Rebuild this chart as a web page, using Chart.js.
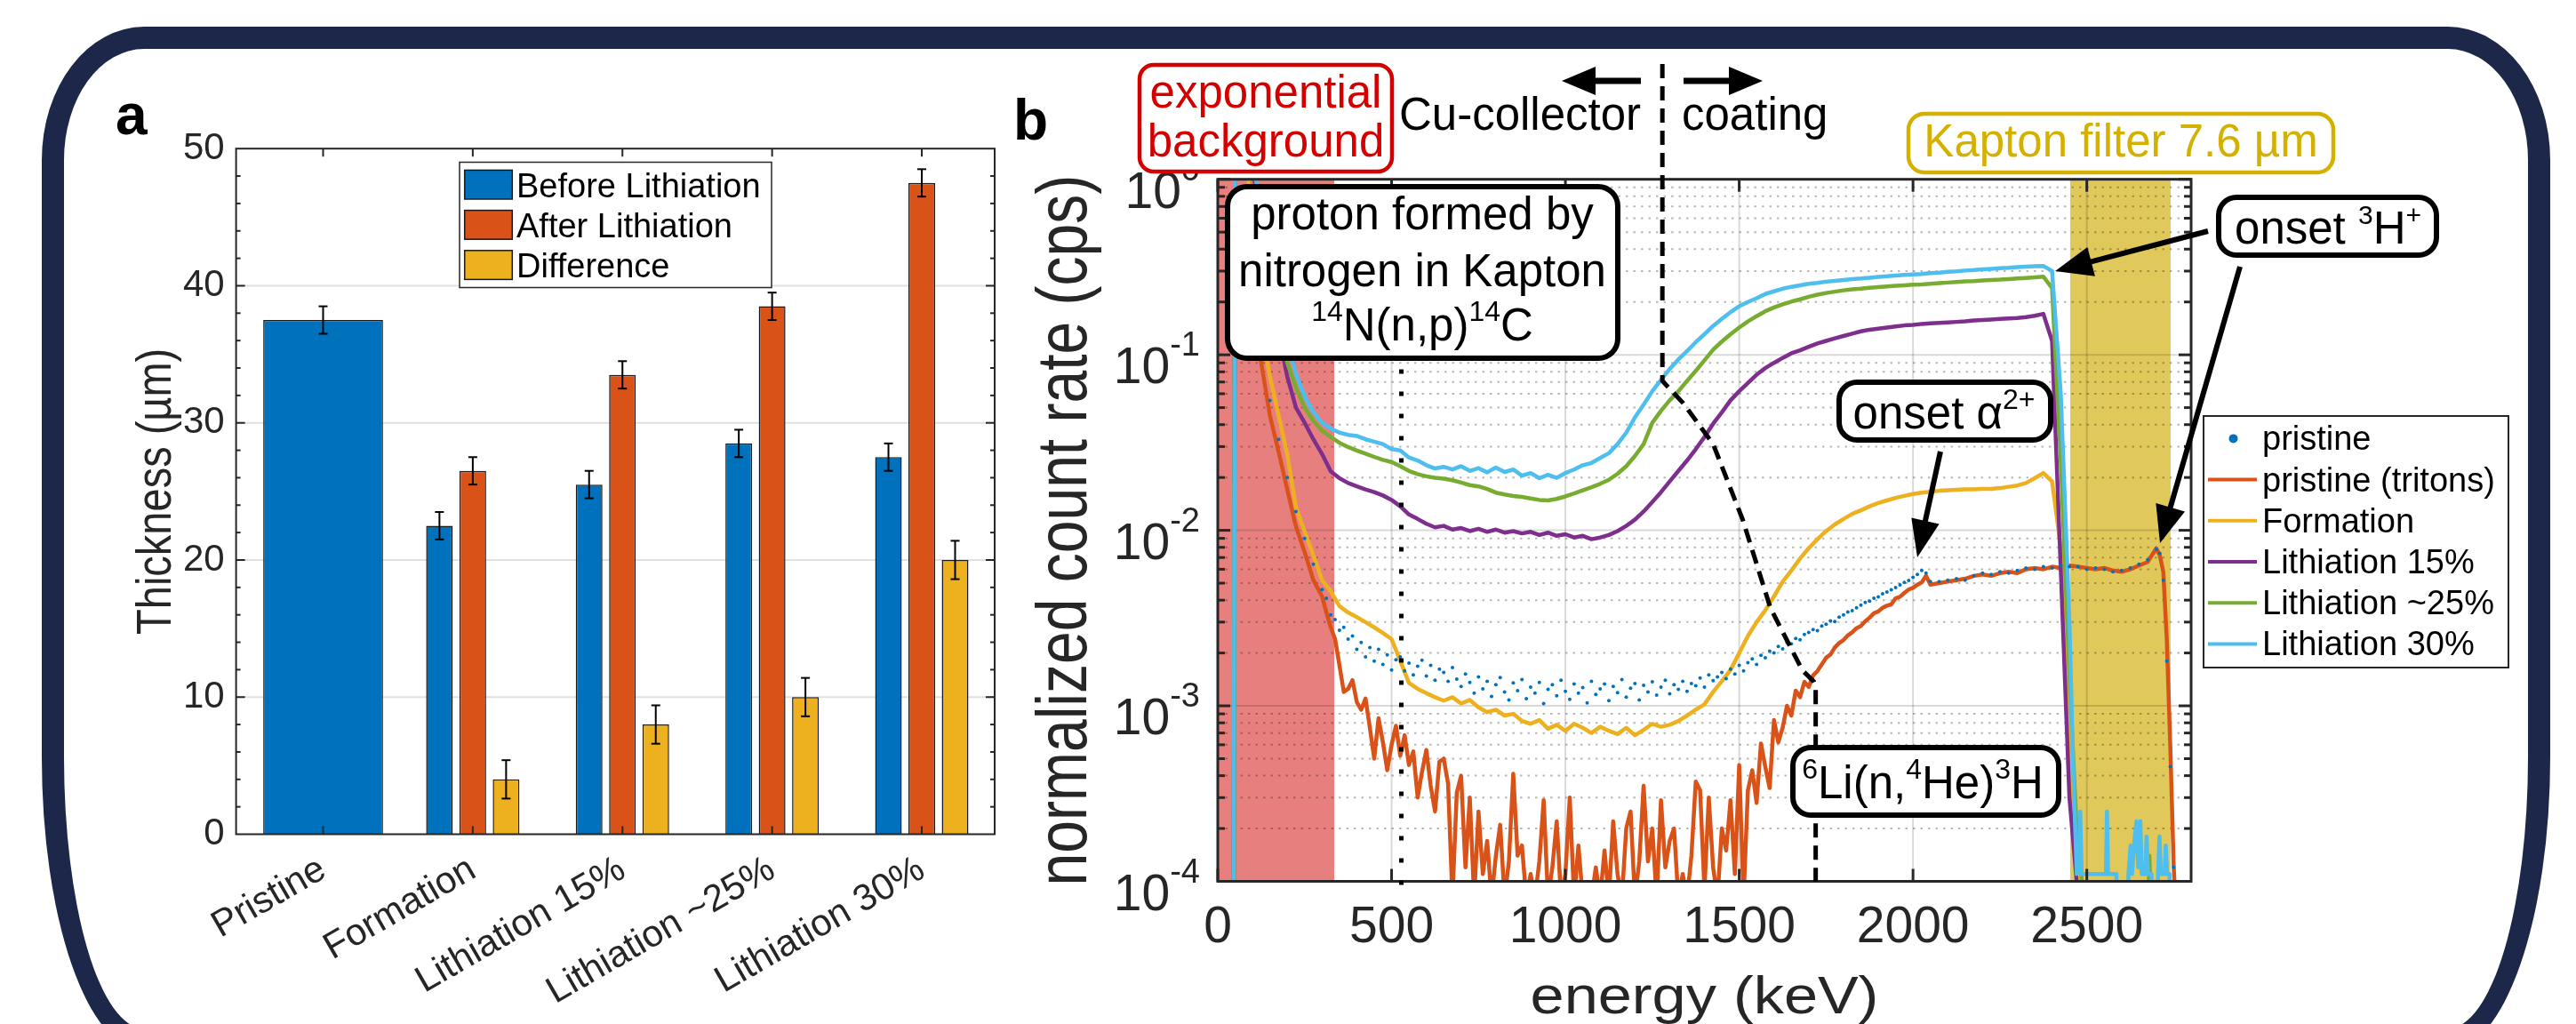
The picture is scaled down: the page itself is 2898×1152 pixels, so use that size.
<!DOCTYPE html>
<html><head><meta charset="utf-8">
<script src="https://cdn.jsdelivr.net/npm/chart.js@4.4.1/dist/chart.umd.min.js"></script>
<style>
html,body{margin:0;padding:0;background:#fff;width:2898px;height:1152px;overflow:hidden;}
#frame{position:absolute;left:47px;top:30px;width:2822px;height:1152px;box-sizing:border-box;border:25px solid #1d2749;border-radius:115px 115px 115px 115px / 150px 150px 330px 330px;}
canvas{position:absolute;left:0;top:0;width:2898px;height:1152px;}
</style></head><body>
<div id="frame"></div>
<canvas id="ca" width="2898" height="1152"></canvas>
<canvas id="cb" width="2898" height="1152"></canvas>
<script>
// ---------------- Panel a data ----------------
const categories = ['Pristine','Formation','Lithiation 15%','Lithiation ~25%','Lithiation 30%'];
const pristineThickness = [37.5, null, null, null, null];
const pristineError     = [1, null, null, null, null];
const beforeLithiation  = [null, 22.5, 25.5, 28.5, 27.5];
const beforeError       = [null, 1, 1, 1, 1];
const afterLithiation   = [null, 26.5, 33.5, 38.5, 47.5];
const afterError        = [null, 1, 1, 1, 1];
const difference        = [null, 4, 8, 10, 20];
const differenceError   = [null, 1.4, 1.4, 1.4, 1.4];
const thicknessTicks    = [0, 10, 20, 30, 40, 50];

// ---------------- Panel b data ----------------
const energyTicks = [0, 500, 1000, 1500, 2000, 2500];
const rateTicks = [1e-4, 1e-3, 1e-2, 1e-1, 1];

const energyGrid = [45,50,75,100,125,150,175,200,225,250,
 275,300,325,350,375,400,425,450,475,500,
 525,550,575,600,625,650,675,700,725,750,
 775,800,825,850,875,900,925,950,975,1000,
 1025,1050,1075,1100,1125,1150,1175,1200,1225,1250,
 1275,1300,1325,1350,1375,1400,1425,1450,1475,1500,
 1525,1550,1575,1600,1625,1650,1675,1700,1725,1750,
 1775,1800,1825,1850,1875,1900,1925,1950,1975,2000,
 2025,2050,2075,2100,2125,2150,2175,2200,2225,2250,
 2275,2300,2325,2350,2375,2400,2425,2450,2475];

const formationRate = [1e-5,5,2.2,0.5,0.14,0.075,0.045,0.027,0.0135,0.0098,
 0.0072,0.0052,0.0045,0.0037,0.0034,0.0032,0.003,0.0028,0.0026,0.0024,
 0.0018,0.00135,0.00125,0.00118,0.00112,0.00107,0.00112,0.00103,0.00108,0.00098,
 0.00092,0.00095,0.00088,0.0009,0.00082,0.00079,0.00083,0.00074,0.00078,0.00072,
 0.00079,0.00075,0.0007,0.00076,0.00072,0.00069,0.00075,0.00068,0.00073,0.00079,
 0.00076,0.00078,0.00082,0.00088,0.00095,0.00102,0.0012,0.00138,0.0016,0.002,
 0.0025,0.003,0.0035,0.0042,0.0051,0.0059,0.0069,0.0079,0.0089,0.0099,
 0.0108,0.0116,0.0124,0.013,0.0137,0.0143,0.0148,0.0153,0.0157,0.0161,
 0.0164,0.0166,0.0168,0.0169,0.017,0.0171,0.0171,0.0172,0.0172,0.0174,
 0.0177,0.018,0.0186,0.0198,0.0212,0.019,0.008,0.0005,0.00008];

const lith15Rate = [1e-5,5,2.5,1.2,0.5,0.25,0.13,0.075,0.05,0.041,
 0.033,0.0272,0.0217,0.0198,0.0186,0.0178,0.0171,0.0165,0.0158,0.0149,
 0.0137,0.0123,0.0116,0.0109,0.0104,0.0106,0.0101,0.0103,0.0099,0.0102,
 0.0098,0.0101,0.0097,0.0099,0.0096,0.0098,0.0094,0.0097,0.0093,0.0095,
 0.0091,0.0093,0.0089,0.0091,0.0094,0.0099,0.0106,0.0115,0.0128,0.0145,
 0.0165,0.019,0.0218,0.025,0.029,0.034,0.0405,0.047,0.055,0.062,
 0.069,0.077,0.084,0.09,0.096,0.102,0.106,0.111,0.116,0.12,
 0.124,0.128,0.132,0.136,0.139,0.141,0.143,0.145,0.147,0.148,
 0.15,0.151,0.152,0.153,0.154,0.155,0.157,0.158,0.159,0.16,
 0.161,0.162,0.164,0.167,0.171,0.12,0.006,0.0003,0.00008];

const lith25Rate = [1e-5,5,2.8,1.4,0.55,0.32,0.18,0.09,0.065,0.05,
 0.042,0.037,0.034,0.0315,0.0298,0.0285,0.0273,0.0262,0.0252,0.0245,
 0.0232,0.0218,0.0209,0.0203,0.0199,0.0197,0.0193,0.0187,0.0181,0.0178,
 0.0172,0.0164,0.016,0.0157,0.0155,0.0152,0.0149,0.0148,0.0151,0.0156,
 0.0162,0.0169,0.0176,0.0184,0.0194,0.021,0.0232,0.0265,0.031,0.041,
 0.048,0.055,0.062,0.071,0.081,0.093,0.107,0.119,0.131,0.143,
 0.155,0.166,0.177,0.186,0.194,0.201,0.207,0.214,0.22,0.225,
 0.229,0.233,0.236,0.238,0.241,0.243,0.245,0.247,0.249,0.251,
 0.252,0.254,0.256,0.258,0.26,0.262,0.263,0.265,0.267,0.268,
 0.27,0.272,0.274,0.276,0.279,0.24,0.025,0.0015,0.00013];
const lith25TailEnergy = [2482, 2490, 2676, 2680, 2686];
const lith25TailRate   = [0.00014, 0.00006, 0.00006, 0.00014, 0.00006];

const lith30Rate = [1e-5,5,3,1.5,0.6,0.35,0.2,0.12,0.078,0.058,
 0.047,0.041,0.038,0.036,0.035,0.0345,0.033,0.032,0.031,0.029,
 0.0285,0.026,0.025,0.0235,0.0225,0.023,0.0222,0.0232,0.0218,0.0226,
 0.0214,0.0228,0.0215,0.0222,0.0205,0.0212,0.0198,0.0207,0.0199,0.0212,
 0.0222,0.0235,0.0242,0.0258,0.0275,0.031,0.036,0.044,0.052,0.062,
 0.072,0.083,0.094,0.105,0.118,0.131,0.146,0.16,0.175,0.189,
 0.2,0.21,0.222,0.23,0.238,0.244,0.249,0.254,0.257,0.261,
 0.264,0.267,0.27,0.272,0.275,0.278,0.28,0.283,0.285,0.287,
 0.289,0.292,0.294,0.297,0.299,0.302,0.304,0.307,0.309,0.311,
 0.313,0.316,0.318,0.32,0.321,0.3,0.06,0.003,null];
const lith30TailEnergy = [2460,2471,2478,2481,2485,2505,2555,2558,2561,2585,2588,2617,2620,2626,2630,2638,2643,2648,2654,2658,2668,2672,2676,2686,2689,2702,2705,2709,2713,2724,2727,2731,2738,2741];
const lith30TailRate   = [0.0005,0.00011,0.00012,0.00025,0.00011,0.00011,0.00011,0.00025,0.00011,0.00011,0.00006,0.00006,0.00011,0.00016,0.00011,0.00018,0.00022,0.00012,0.00022,0.00011,0.00011,0.00018,0.00011,0.00011,0.00006,0.00006,0.00011,0.00018,0.00011,0.00011,0.00016,0.00011,0.00011,0.00005];

const spectrumEnergy = [45,50,75,100,125,150,175,200,225,250,275,
 300,312.5,325,337.5,350,362.5,375,387.5,
 400,412.5,425,437.5,450,462.5,475,487.5,
 500,512.5,525,537.5,550,562.5,575,587.5,
 600,612.5,625,637.5,650,662.5,675,687.5,
 700,712.5,725,737.5,750,762.5,775,787.5,
 800,812.5,825,837.5,850,862.5,875,887.5,
 900,912.5,925,937.5,950,962.5,975,987.5,
 1000,1012.5,1025,1037.5,1050,1062.5,1075,1087.5,
 1100,1112.5,1125,1137.5,1150,1162.5,1175,1187.5,
 1200,1212.5,1225,1237.5,1250,1262.5,1275,1287.5,
 1300,1312.5,1325,1337.5,1350,1362.5,1375,1387.5,
 1400,1412.5,1425,1437.5,1450,1462.5,1475,1487.5,
 1500,1512.5,1525,1537.5,1550,1562.5,1575,1587.5,
 1600,1612.5,1625,1637.5,1650,1662.5,1675,1687.5,
 1700,1712.5,1725,1737.5,1750,1762.5,1775,1787.5,
 1800,1812.5,1825,1837.5,1850,1862.5,1875,1887.5,
 1900,1912.5,1925,1937.5,1950,1962.5,1975,1987.5,
 2000,2012.5,2025,2037.5,2050,
 2075,2100,2125,2150,2175,2200,2225,2250,2275,2300,2325,2350,2375,
 2400,2425,2450,2475,2500,2525,2550,2575,2600,2625,2650,2675,2700,
 2710,2720,2730,2740,2750,2760];

const tritonRate = [1e-5,5,2,0.6,0.09,0.045,0.028,0.017,0.0105,0.0075,0.0052,
 0.0042,0.0034,0.0028,0.0024,0.0017,0.0012,0.00125,0.0014,
 0.00105,0.00095,0.0011,0.00075,0.0005,0.00085,0.00062,0.00043,
 0.0006,0.00077,0.00052,0.00068,0.00046,0.00055,0.0003,0.00042,
 0.00056,0.00035,0.00025,0.00048,0.0005,0.00036,0.00008,0.00032,
 0.0004,0.00012,0.0003,0.00008,0.00025,0.00011,0.00017,0.00008,
 0.00014,0.00021,0.00008,0.00013,0.00041,0.00014,0.00016,0.00008,
 0.00011,0.00008,0.00013,0.00029,0.00008,0.00012,0.00022,0.00008,
 0.00011,0.0003,0.00008,0.00016,0.00008,0.00009,0.00008,0.00012,
 0.00008,0.00015,0.00008,0.00022,0.00011,0.00008,0.0002,0.00025,
 0.00008,0.00013,0.00035,0.00013,0.0002,0.00008,0.00029,0.00012,
 0.00017,0.0002,0.00008,0.00011,0.00008,0.00014,0.00037,0.00033,
 0.00009,0.0003,0.00012,0.00008,0.0002,0.00015,0.00029,0.00011,
 0.00046,0.00008,0.00033,0.00043,0.00028,0.00061,0.00045,0.00034,
 0.00083,0.00062,0.00075,0.001,0.00088,0.00122,0.00112,0.00137,
 0.00128,0.00149,0.00158,0.00172,0.00188,0.00196,0.00215,0.00228,
 0.00237,0.00252,0.00262,0.00277,0.00285,0.00303,0.00318,0.00337,
 0.00345,0.00362,0.00372,0.00378,0.0041,0.00418,0.0044,0.0046,
 0.0047,0.0049,0.00505,0.0055,0.0049,
 0.005,0.0051,0.0052,0.0053,0.0055,0.0056,0.0055,0.0057,0.0058,0.0057,0.006,0.0061,0.006,
 0.0062,0.0061,0.0063,0.0062,0.0061,0.006,0.0061,0.0059,0.0058,0.006,0.0063,0.0066,0.0079,
 0.0072,0.0058,0.0024,0.0006,0.00012,0.00005];

const pristineRate = [null,null,null,null,0.11,0.055,0.033,0.02,0.0128,0.009,0.0064,
 0.0046,0.0041,0.0033,0.0031,0.0027,0.0028,0.0024,0.0025,
 0.0021,0.0023,0.0019,0.00215,0.0018,0.0021,0.00172,0.00195,
 0.0016,0.00183,0.0019,0.00158,0.00175,0.0015,0.00168,0.00182,
 0.00148,0.0017,0.0014,0.00162,0.00155,0.00138,0.00165,0.00142,
 0.00129,0.00152,0.00136,0.00118,0.00146,0.00125,0.00138,0.00113,
 0.00132,0.00145,0.0012,0.00108,0.00135,0.00122,0.00141,0.0011,
 0.00128,0.00118,0.00136,0.00103,0.00124,0.00132,0.00114,0.0014,
 0.00121,0.00109,0.00133,0.00118,0.00127,0.00104,0.00138,0.00116,
 0.00125,0.00133,0.00107,0.00129,0.00119,0.00141,0.00112,0.00126,
 0.00134,0.00108,0.00131,0.0012,0.00137,0.00115,0.00128,0.0014,
 0.00117,0.00132,0.00124,0.00138,0.00121,0.00134,0.0013,0.00144,
 0.00128,0.0015,0.00139,0.00146,0.00155,0.00143,0.00162,0.00152,
 0.0017,0.00158,0.00176,0.00185,0.00172,0.00194,0.00188,0.00205,
 0.002,0.00218,0.00211,0.0023,0.00226,0.00242,0.00238,0.00255,
 0.00262,0.00272,0.00268,0.00285,0.00292,0.00305,0.00302,0.0032,
 0.0033,0.00342,0.00348,0.00362,0.00375,0.00388,0.00395,0.0041,
 0.00418,0.00435,0.00445,0.00458,0.00472,0.00488,0.00505,0.00518,
 0.0054,0.0056,0.0059,0.0057,0.0051,
 0.0051,0.0052,0.0053,0.0052,0.0055,0.0057,0.0056,0.0058,0.0057,0.0059,0.0061,0.006,0.0062,
 0.0061,0.0063,0.0062,0.0062,0.006,0.0061,0.006,0.0058,0.0059,0.0061,0.0064,0.0068,0.0078,
 0.0074,0.0052,0.0018,0.00045,0.00012,null];

// annotation geometry in data units
const backgroundRange = [0, 335];
const kaptonRange = [2452, 2741];
const protonLineEnergy = 528;
const boundaryEnergy = [1279, 1279, 1339, 1425, 1510, 1590, 1681, 1715, 1720, 1720];
const boundaryRate   = [1, 0.071, 0.053, 0.031, 0.0115, 0.0036, 0.0016, 0.00137, 0.0013, 0.0001];

// ---------------- styling ----------------
const FF = "'Liberation Sans', Arial, Helvetica, sans-serif";
const AX = '#262626';
const BLUE='#0072BD', ORANGE='#D95319', YELLOW='#EDB120', PURPLE='#7E2F8E', GREEN='#77AC30', CYAN='#4DBEEE';
Chart.defaults.font.family = FF;
Chart.defaults.color = AX;

function rich(ctx, parts, x, y, align, size, supSize, rise, color){
  ctx.save(); ctx.fillStyle = color; ctx.textBaseline = 'alphabetic'; ctx.textAlign = 'left';
  const ws = []; let w = 0;
  for (const [t, s] of parts){ ctx.font = `${s?supSize:size}px ${FF}`; const m = ctx.measureText(t).width; ws.push(m); w += m; }
  let cx = align === 'center' ? x - w/2 : (align === 'right' ? x - w : x);
  parts.forEach(([t, s], i) => { ctx.font = `${s?supSize:size}px ${FF}`; ctx.fillText(t, cx, s ? y - rise : y); cx += ws[i]; });
  ctx.restore();
}
function rbox(ctx, x0, y0, x1, y1, r, lw, stroke){
  ctx.save(); ctx.beginPath(); ctx.roundRect(x0, y0, x1-x0, y1-y0, r);
  ctx.fillStyle = '#fff'; ctx.fill(); ctx.lineWidth = lw; ctx.strokeStyle = stroke; ctx.stroke(); ctx.restore();
}
function arrow(ctx, x0, y0, x1, y1, lw, hl, hw){
  const a = Math.atan2(y1-y0, x1-x0);
  const bx = x1 - hl*Math.cos(a), by = y1 - hl*Math.sin(a);
  ctx.save(); ctx.strokeStyle = '#000'; ctx.fillStyle = '#000'; ctx.lineWidth = lw; ctx.lineCap = 'butt';
  ctx.beginPath(); ctx.moveTo(x0, y0); ctx.lineTo(bx + 2*Math.cos(a), by + 2*Math.sin(a)); ctx.stroke();
  ctx.beginPath(); ctx.moveTo(x1, y1);
  ctx.lineTo(bx + hw*Math.sin(a), by - hw*Math.cos(a));
  ctx.lineTo(bx - hw*Math.sin(a), by + hw*Math.cos(a));
  ctx.closePath(); ctx.fill(); ctx.restore();
}
function line(ctx, x0, y0, x1, y1){ ctx.beginPath(); ctx.moveTo(x0, y0); ctx.lineTo(x1, y1); ctx.stroke(); }

// ---------------- Panel a ----------------
const toPts = vals => vals.map((v, i) => ({x: i + 1, y: v}));
const panelA = {
  id: 'panelA',
  beforeDatasetsDraw(chart){
    const {ctx, chartArea: ca, scales: {y}} = chart;
    ctx.save(); ctx.strokeStyle = 'rgba(0,0,0,0.12)'; ctx.lineWidth = 2;
    for (const v of thicknessTicks){ if (v <= 0 || v >= 50) continue; const py = y.getPixelForValue(v); line(ctx, ca.left, py, ca.right, py); }
    ctx.restore();
  },
  afterDatasetsDraw(chart){
    const {ctx, chartArea: ca, scales: {x, y}} = chart;
    ctx.save(); ctx.strokeStyle = '#000'; ctx.lineWidth = 2;
    chart.data.datasets.forEach((ds, di) => {
      const meta = chart.getDatasetMeta(di);
      ds.err.forEach((e, i) => {
        const v = ds.data[i].y; if (e == null || v == null) return;
        const bx = meta.data[i].x, yt = y.getPixelForValue(v + e), yb = y.getPixelForValue(v - e);
        line(ctx, bx, yt, bx, yb); line(ctx, bx-5, yt, bx+5, yt); line(ctx, bx-5, yb, bx+5, yb);
      });
    });
    ctx.restore();
    ctx.save(); ctx.strokeStyle = AX; ctx.lineWidth = 2;
    ctx.strokeRect(ca.left, ca.top, ca.right-ca.left, ca.bottom-ca.top);
    for (let v = 2; v < 50; v += 2){
      const py = y.getPixelForValue(v); const L = (v % 10 === 0) ? 10 : 5;
      line(ctx, ca.left, py, ca.left+L, py); line(ctx, ca.right, py, ca.right-L, py);
    }
    categories.forEach((c, i) => { const px = x.getPixelForValue(i+1); line(ctx, px, ca.bottom, px, ca.bottom-9); line(ctx, px, ca.top, px, ca.top+9); });
    ctx.restore();
    ctx.save();
    ctx.fillStyle = '#fff'; ctx.fillRect(517, 182.5, 351, 141); ctx.strokeStyle = AX; ctx.lineWidth = 1.5; ctx.strokeRect(517, 182.5, 351, 141);
    const items = chart.data.datasets.slice(1);
    items.forEach((ds, k) => {
      const top = 191.4 + k*45.2;
      ctx.fillStyle = ds.backgroundColor; ctx.fillRect(522.7, top, 53.6, 32.6);
      ctx.strokeStyle = '#1a1a1a'; ctx.lineWidth = 1.5; ctx.strokeRect(522.7, top, 53.6, 32.6);
      ctx.fillStyle = '#000'; ctx.font = `38px ${FF}`; ctx.textAlign = 'left'; ctx.textBaseline = 'alphabetic';
      ctx.fillText(ds.label, 581, 222 + k*45.2);
    });
    ctx.restore();
    ctx.save(); ctx.translate(191.7, (ca.top+ca.bottom)/2); ctx.rotate(-Math.PI/2); ctx.scale(1, 1.18);
    ctx.fillStyle = AX; ctx.font = `47px ${FF}`; ctx.textAlign = 'center'; ctx.textBaseline = 'alphabetic';
    ctx.fillText('Thickness (µm)', 0, 0); ctx.restore();
    ctx.save(); ctx.fillStyle = '#000'; ctx.font = `bold 64px ${FF}`; ctx.textAlign = 'left'; ctx.fillText('a', 130, 151); ctx.restore();
  }
};

new Chart(document.getElementById('ca'), {
  type: 'bar',
  data: { datasets: [
    {label: 'Pristine', data: toPts(pristineThickness), err: pristineError, backgroundColor: BLUE, categoryPercentage: 1, barPercentage: 0.8},
    {label: 'Before Lithiation', data: toPts(beforeLithiation), err: beforeError, backgroundColor: BLUE, categoryPercentage: 0.668, barPercentage: 0.8},
    {label: 'After Lithiation', data: toPts(afterLithiation), err: afterError, backgroundColor: ORANGE, categoryPercentage: 0.668, barPercentage: 0.8},
    {label: 'Difference', data: toPts(difference), err: differenceError, backgroundColor: YELLOW, categoryPercentage: 0.668, barPercentage: 0.8}
  ]},
  options: {
    responsive: false, animation: false, devicePixelRatio: 1, events: [],
    layout: {padding: {left: 85.6, top: 167.2, right: 1779, bottom: 23.5}},
    datasets: {bar: {skipNull: true, borderColor: '#1a1a1a', borderWidth: 1.5}},
    plugins: {legend: {display: false}, tooltip: {enabled: false}},
    scales: {
      x: {type: 'linear', min: 0.4186, max: 5.487, offset: false,
          grid: {display: false, drawTicks: false, offset: false}, border: {display: false},
          afterBuildTicks: s => { s.ticks = categories.map((c, i) => ({value: i + 1})); },
          afterFit: s => { s.height = 190; },
          ticks: {autoSkip: false, minRotation: 30, maxRotation: 30, padding: 15, color: AX,
                  font: {family: FF, size: 42}, callback: v => categories[Math.round(v) - 1]}},
      y: {type: 'linear', min: 0, max: 50,
          grid: {display: false, drawTicks: false}, border: {display: false},
          afterBuildTicks: s => { s.ticks = thicknessTicks.map(v => ({value: v})); },
          afterFit: s => { s.width = 180; },
          ticks: {padding: 13, color: AX, font: {family: FF, size: 42}}}
    }
  },
  plugins: [panelA]
});

// ---------------- Panel b ----------------
const mk = (E, V) => E.map((e, i) => ({x: e, y: V[i]})).filter(p => p.y !== null && p.y !== undefined);
const panelB = {
  id: 'panelB',
  beforeDatasetsDraw(chart){
    const {ctx, chartArea: ca, scales: {x, y}} = chart;
    ctx.save();
    ctx.fillStyle = 'rgba(210,0,0,0.5)';
    ctx.fillRect(x.getPixelForValue(backgroundRange[0]), ca.top, x.getPixelForValue(backgroundRange[1]) - x.getPixelForValue(backgroundRange[0]), ca.bottom - ca.top);
    ctx.fillStyle = 'rgba(212,176,20,0.7)';
    ctx.fillRect(x.getPixelForValue(kaptonRange[0]), ca.top, x.getPixelForValue(kaptonRange[1]) - x.getPixelForValue(kaptonRange[0]), ca.bottom - ca.top);
    ctx.strokeStyle = 'rgba(0,0,0,0.28)'; ctx.lineWidth = 2; ctx.setLineDash([2.5, 6]);
    for (let e = -4; e < 0; e++) for (let m = 2; m <= 9; m++){ const py = y.getPixelForValue(m * Math.pow(10, e)); line(ctx, ca.left, py, ca.right, py); }
    ctx.setLineDash([]);
    ctx.strokeStyle = 'rgba(0,0,0,0.15)'; ctx.lineWidth = 2;
    for (const v of rateTicks){ if (v <= 1e-4 || v >= 1) continue; const py = y.getPixelForValue(v); line(ctx, ca.left, py, ca.right, py); }
    for (const v of energyTicks){ if (v <= 0) continue; const px = x.getPixelForValue(v); line(ctx, px, ca.top, px, ca.bottom); }
    ctx.restore();
  },
  afterDatasetsDraw(chart){
    const {ctx, chartArea: ca, scales: {x, y}} = chart;
    ctx.save(); ctx.strokeStyle = AX; ctx.lineWidth = 3;
    ctx.strokeRect(ca.left, ca.top, ca.right-ca.left, ca.bottom-ca.top);
    for (let e = -4; e <= 0; e++) for (let m = 1; m <= 9; m++){
      const v = m * Math.pow(10, e); if (v > 1) continue;
      const py = y.getPixelForValue(v); const L = m === 1 ? 14 : 8;
      line(ctx, ca.left, py, ca.left+L, py); line(ctx, ca.right, py, ca.right-L, py);
    }
    for (const v of energyTicks){ const px = x.getPixelForValue(v); line(ctx, px, ca.bottom, px, ca.bottom-14); line(ctx, px, ca.top, px, ca.top+14); }
    ctx.restore();
    for (const v of rateTicks){
      const py = y.getPixelForValue(v); const ex = String(Math.round(Math.log10(v)));
      rich(ctx, [['10', 0], [ex, 1]], ca.left - 20, py + 32, 'right', 57, 38, 31, AX);
    }
    ctx.save(); ctx.strokeStyle = '#000'; ctx.lineWidth = 5; ctx.setLineDash([5, 20]);
    const px5 = x.getPixelForValue(protonLineEnergy); line(ctx, px5, ca.bottom + 4, px5, 405); ctx.restore();
    ctx.save(); ctx.strokeStyle = '#000'; ctx.lineWidth = 5; ctx.setLineDash([16, 9]);
    ctx.beginPath(); ctx.moveTo(x.getPixelForValue(boundaryEnergy[0]), 72);
    for (let i = 1; i < boundaryEnergy.length; i++) ctx.lineTo(x.getPixelForValue(boundaryEnergy[i]), y.getPixelForValue(boundaryRate[i]));
    ctx.stroke(); ctx.restore();
    rbox(ctx, 1282, 73, 1566, 193, 16, 4.5, '#D40000');
    ctx.save(); ctx.fillStyle = '#D40000'; ctx.font = `51px ${FF}`; ctx.textAlign = 'center'; ctx.textBaseline = 'alphabetic';
    ctx.fillText('exponential', 1424, 121); ctx.fillText('background', 1424, 176); ctx.restore();
    rbox(ctx, 2147, 128, 2625, 194, 18, 4.5, '#D4B000');
    ctx.save(); ctx.fillStyle = '#D4B000'; ctx.font = `51px ${FF}`; ctx.textAlign = 'center'; ctx.fillText('Kapton filter 7.6 µm', 2386, 176); ctx.restore();
    ctx.save(); ctx.fillStyle = '#000'; ctx.font = `51px ${FF}`; ctx.textAlign = 'left';
    ctx.fillText('Cu-collector', 1574, 146); ctx.fillText('coating', 1892, 146); ctx.restore();
    arrow(ctx, 1846, 91, 1757, 91, 7, 38, 16);
    arrow(ctx, 1894, 91, 1983, 91, 7, 38, 16);
    rbox(ctx, 1381, 210, 1820, 403, 22, 6, '#000');
    ctx.save(); ctx.fillStyle = '#000'; ctx.font = `51px ${FF}`; ctx.textAlign = 'center';
    ctx.fillText('proton formed by', 1600, 258); ctx.fillText('nitrogen in Kapton', 1600, 322); ctx.restore();
    rich(ctx, [['14', 1], ['N(n,p)', 0], ['14', 1], ['C', 0]], 1600, 383, 'center', 51, 32, 22, '#000');
    rbox(ctx, 2496, 222, 2741, 287, 20, 6, '#000');
    rich(ctx, [['onset ', 0], ['3', 1], ['H', 0], ['+', 1]], 2619, 274, 'center', 51, 30, 22, '#000');
    rbox(ctx, 2069, 430, 2307, 495, 20, 6, '#000');
    rich(ctx, [['onset α', 0], ['2+', 1]], 2187, 482, 'center', 51, 32, 22, '#000');
    rbox(ctx, 2017, 841, 2316, 917, 20, 6, '#000');
    rich(ctx, [['6', 1], ['Li(n,', 0], ['4', 1], ['He)', 0], ['3', 1], ['H', 0]], 2163, 898, 'center', 51, 32, 22, '#000');
    arrow(ctx, 2484, 260, 2312, 305, 6, 42, 17);
    arrow(ctx, 2520, 300, 2430, 611, 6, 42, 17);
    arrow(ctx, 2183, 508, 2157, 627, 6, 42, 16);
    ctx.save();
    ctx.fillStyle = '#fff'; ctx.fillRect(2479, 468, 343, 283); ctx.strokeStyle = AX; ctx.lineWidth = 2; ctx.strokeRect(2479, 468, 343, 283);
    chart.data.datasets.forEach((ds, k) => {
      const base = 506.4 + k*46.2, my = base - 13;
      if (ds.showLine === false){ ctx.fillStyle = ds.borderColor; ctx.beginPath(); ctx.arc(2512.5, my, 5, 0, 2*Math.PI); ctx.fill(); }
      else { ctx.strokeStyle = ds.borderColor; ctx.lineWidth = 4; line(ctx, 2484, my, 2539, my); }
      ctx.fillStyle = '#000'; ctx.font = `38px ${FF}`; ctx.textAlign = 'left'; ctx.textBaseline = 'alphabetic';
      ctx.fillText(ds.label, 2545, base);
    });
    ctx.restore();
    ctx.save(); ctx.translate(1222, (ca.top+ca.bottom)/2); ctx.rotate(-Math.PI/2); ctx.scale(1, 1.2);
    ctx.fillStyle = AX; ctx.font = `66px ${FF}`; ctx.textAlign = 'center'; ctx.textBaseline = 'alphabetic';
    ctx.fillText('normalized count rate (cps)', 0, 0); ctx.restore();
    ctx.save(); ctx.translate((ca.left+ca.right)/2, 1140); ctx.scale(1.16, 1);
    ctx.fillStyle = AX; ctx.font = `59px ${FF}`; ctx.textAlign = 'center'; ctx.textBaseline = 'alphabetic';
    ctx.fillText('energy (keV)', 0, 0); ctx.restore();
    ctx.save(); ctx.fillStyle = '#000'; ctx.font = `bold 64px ${FF}`; ctx.textAlign = 'left'; ctx.fillText('b', 1140, 157); ctx.restore();
  }
};

new Chart(document.getElementById('cb'), {
  type: 'line',
  data: { datasets: [
    {label: 'pristine', data: mk(spectrumEnergy, pristineRate), showLine: false, pointRadius: 2, pointBorderWidth: 0, pointBackgroundColor: BLUE, borderColor: BLUE, backgroundColor: BLUE, order: 0},
    {label: 'pristine (tritons)', data: mk(spectrumEnergy, tritonRate), borderColor: ORANGE, borderWidth: 4.5, pointRadius: 0, order: 5},
    {label: 'Formation', data: mk(energyGrid, formationRate), borderColor: YELLOW, borderWidth: 4.5, pointRadius: 0, order: 4},
    {label: 'Lithiation 15%', data: mk(energyGrid, lith15Rate), borderColor: PURPLE, borderWidth: 4.5, pointRadius: 0, order: 3},
    {label: 'Lithiation ~25%', data: mk(energyGrid, lith25Rate).concat(mk(lith25TailEnergy, lith25TailRate)), borderColor: GREEN, borderWidth: 4.5, pointRadius: 0, order: 2},
    {label: 'Lithiation 30%', data: mk(energyGrid, lith30Rate).concat(mk(lith30TailEnergy, lith30TailRate)), borderColor: CYAN, borderWidth: 4.5, pointRadius: 0, order: 1}
  ]},
  options: {
    responsive: false, animation: false, devicePixelRatio: 1, events: [],
    layout: {padding: {left: 1220, top: 201.7, right: 433, bottom: 20.5}},
    elements: {line: {tension: 0, borderJoinStyle: 'round'}, point: {hoverRadius: 0}},
    plugins: {legend: {display: false}, tooltip: {enabled: false}},
    scales: {
      x: {type: 'linear', min: 0, max: 2800,
          grid: {display: false, drawTicks: false}, border: {display: false},
          afterBuildTicks: s => { s.ticks = energyTicks.map(v => ({value: v})); },
          afterFit: s => { s.height = 140; },
          ticks: {padding: 19, color: AX, maxRotation: 0, autoSkip: false, font: {family: FF, size: 57}, callback: v => String(v)}},
      y: {type: 'logarithmic', min: 1e-4, max: 1,
          grid: {display: false, drawTicks: false}, border: {display: false},
          afterBuildTicks: s => { s.ticks = rateTicks.map(v => ({value: v})); },
          afterFit: s => { s.width = 150; },
          ticks: {display: false}}
    }
  },
  plugins: [panelB]
});
</script></body></html>
